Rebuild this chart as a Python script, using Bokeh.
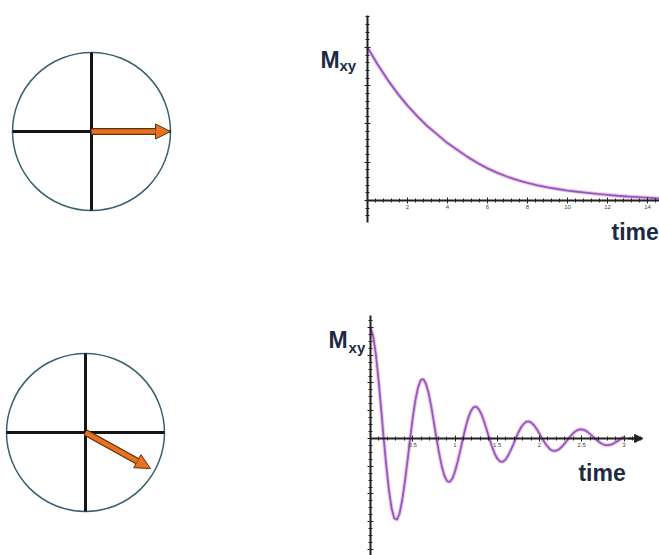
import math
from bokeh.plotting import figure
from bokeh.layouts import column, row
from bokeh.models import (ColumnDataSource, LinearAxis, SingleIntervalTicker, Range1d,
                          Arrow, NormalHead, Label, CustomJSTickFormatter)
from bokeh.embed import file_html
from bokeh.resources import INLINE

# ---------------- data ----------------
# magnetisation vector in the transverse plane (angle in degrees, length relative to radius)
vector_angles_deg = [0, -29]
vector_lengths = [1.0, 0.94]

# top chart: smooth decay of Mxy
decay_time = [0, 0.5, 1, 1.5, 2, 2.5, 3, 3.5, 4, 4.5, 5, 5.5, 6, 6.5, 7, 7.5,
              8, 8.5, 9, 9.5, 10, 10.5, 11, 11.5, 12, 12.5, 13, 13.5, 14, 14.5, 15]
decay_mxy = [1.00, 0.89, 0.79, 0.70, 0.62, 0.55, 0.485, 0.43, 0.375, 0.33, 0.285, 0.245,
             0.21, 0.18, 0.155, 0.133, 0.115, 0.099, 0.086, 0.075, 0.065, 0.057, 0.050,
             0.043, 0.037, 0.031, 0.026, 0.022, 0.018, 0.014, 0.011]
decay_tick_interval = 2

# bottom chart: oscillating (precessing) decay of Mxy
osc_time = [0.000, 0.031, 0.063, 0.094, 0.125, 0.156, 0.188, 0.219, 0.250, 0.281, 0.313, 0.344, 0.375, 0.406, 0.438, 0.469,
            0.500, 0.531, 0.563, 0.594, 0.625, 0.656, 0.688, 0.719, 0.750, 0.781, 0.813, 0.844, 0.875, 0.906, 0.938, 0.969,
            1.000, 1.031, 1.063, 1.094, 1.125, 1.156, 1.188, 1.219, 1.250, 1.281, 1.313, 1.344, 1.375, 1.406, 1.438, 1.469,
            1.500, 1.531, 1.563, 1.594, 1.625, 1.656, 1.688, 1.719, 1.750, 1.781, 1.813, 1.844, 1.875, 1.906, 1.938, 1.969,
            2.000, 2.031, 2.063, 2.094, 2.125, 2.156, 2.188, 2.219, 2.250, 2.281, 2.313, 2.344, 2.375, 2.406, 2.438, 2.469,
            2.500, 2.531, 2.563, 2.594, 2.625, 2.656, 2.688, 2.719, 2.750, 2.781, 2.813, 2.844, 2.875, 2.906, 2.938, 2.969,
            3.000]
osc_mxy = [1.000, 0.922, 0.760, 0.535, 0.273, 0.0, -0.256, -0.472, -0.630, -0.718, -0.732, -0.674, -0.556, -0.392, -0.199, 0.0,
           0.187, 0.346, 0.461, 0.525, 0.535, 0.493, 0.407, 0.287, 0.146, 0.0, -0.137, -0.253, -0.337, -0.384, -0.392, -0.361,
           -0.298, -0.210, -0.107, 0.0, 0.100, 0.185, 0.247, 0.281, 0.287, 0.264, 0.218, 0.153, 0.078, 0.0, -0.073, -0.135,
           -0.180, -0.206, -0.210, -0.193, -0.159, -0.112, -0.057, 0.0, 0.054, 0.099, 0.132, 0.151, 0.153, 0.141, 0.117, 0.082,
           0.042, 0.0, -0.039, -0.072, -0.097, -0.110, -0.112, -0.103, -0.085, -0.060, -0.031, 0.0, 0.029, 0.053, 0.071, 0.081,
           0.082, 0.076, 0.062, 0.044, 0.022, 0.0, -0.021, -0.039, -0.052, -0.059, -0.060, -0.055, -0.046, -0.032, -0.016, 0.0,
           0.015]
osc_tick_interval = 0.5

y_label_main = "M"
y_label_sub = "xy"
x_label = "time"

# ---------------- styles ----------------
TEXT_COLOR = "#1d2a45"
ORANGE = "#e8711f"
CURVE = "#8a5cc6"
HALO = "#f2a9d6"
AXIS = "#222222"
FONT = "Liberation Sans"


def base_fig(w, h, xr, yr):
    p = figure(width=w, height=h, x_range=Range1d(*xr), y_range=Range1d(*yr),
               x_axis_type=None, y_axis_type=None, toolbar_location=None,
               output_backend="svg", min_border=0, outline_line_color=None,
               background_fill_color="white", border_fill_color="white")
    return p


def vector_fig(idx, w, h, xr, yr):
    p = base_fig(w, h, xr, yr)
    p.circle(x=[0], y=[0], radius=1, fill_color=None, line_color="#3b5f6e", line_width=1.5)
    p.segment(x0=[-1, 0], y0=[0, -1], x1=[1, 0], y1=[0, 1], line_color="#141414", line_width=3)
    a = math.radians(vector_angles_deg[idx])
    L = vector_lengths[idx]
    tip_x, tip_y = L * math.cos(a), L * math.sin(a)
    p.segment(x0=[0], y0=[0], x1=[0.82 * tip_x], y1=[0.82 * tip_y],
              line_color="#5a3212", line_width=7)
    src = ColumnDataSource(dict(xs=[0], ys=[0], xe=[tip_x], ye=[tip_y]))
    p.add_layout(Arrow(source=src, x_start="xs", y_start="ys", x_end="xe", y_end="ye",
                       line_color=ORANGE, line_width=4.5,
                       end=NormalHead(size=15, fill_color=ORANGE, line_color="#5a3212", line_width=1)))
    return p


def chart_fig(w, h, xr, yr, t, m, x_interval, x_minor, x_bounds, y_interval, y_minor, y_bounds):
    p = base_fig(w, h, xr, yr)
    p.line(t, m, line_color=HALO, line_width=4, line_alpha=0.7)
    p.line(t, m, line_color=CURVE, line_width=1.8)
    xa = LinearAxis(fixed_location=0, bounds=x_bounds,
                    ticker=SingleIntervalTicker(interval=x_interval, num_minor_ticks=x_minor),
                    axis_line_width=2, axis_line_color=AXIS,
                    major_tick_in=3, major_tick_out=3, minor_tick_in=2, minor_tick_out=2,
                    major_tick_line_color=AXIS, minor_tick_line_color=AXIS,
                    major_label_text_font_size="6px", major_label_text_color="#444444",
                    major_label_standoff=2, major_label_overrides={0: ""})
    ya = LinearAxis(fixed_location=0, bounds=y_bounds,
                    ticker=SingleIntervalTicker(interval=y_interval, num_minor_ticks=y_minor),
                    axis_line_width=2, axis_line_color=AXIS,
                    major_tick_in=3, major_tick_out=3, minor_tick_in=2, minor_tick_out=2,
                    major_tick_line_color=AXIS, minor_tick_line_color=AXIS,
                    formatter=CustomJSTickFormatter(code="return ''"))
    p.add_layout(xa, "below")
    p.add_layout(ya, "left")
    return p


def add_labels(p, mx, my, sx, sy, tx, ty):
    p.add_layout(Label(x=mx, y=my, text=y_label_main, text_font=FONT, text_font_style="bold",
                       text_font_size="23px", text_color=TEXT_COLOR, text_baseline="alphabetic"))
    p.add_layout(Label(x=sx, y=sy, text=y_label_sub, text_font=FONT, text_font_style="bold",
                       text_font_size="15px", text_color=TEXT_COLOR, text_baseline="alphabetic"))
    p.add_layout(Label(x=tx, y=ty, text=x_label, text_font=FONT, text_font_style="bold",
                       text_font_size="23px", text_color=TEXT_COLOR, text_baseline="alphabetic"))


# top row (page pixels: x 0..290 | 290..659, y 0..280)
v1 = vector_fig(0, 290, 280, (-1.152, 2.519), (-1.886, 1.658))
c1 = chart_fig(369, 280, (-3.85, 14.6), (-0.523, 1.307), decay_time, decay_mxy,
               decay_tick_interval, 5, (0, 15), 0.25, 5, (-0.144, 1.21))
add_labels(c1, -2.35, 0.915, -1.4, 0.88, 12.2, -0.209)

# bottom row (y 280..555)
v2 = vector_fig(1, 290, 275, (-1.076, 2.595), (-1.557, 1.924))
c2 = chart_fig(369, 275, (-0.947, 3.420), (-1.054, 1.423), osc_time, osc_mxy,
               osc_tick_interval, 5, (0, 3.22), 0.25, 4, (-1.06, 1.108))
c2.add_layout(Arrow(x_start=3.05, y_start=0, x_end=3.22, y_end=0, line_color=AXIS, line_width=2,
                    end=NormalHead(size=8, fill_color=AXIS, line_color=AXIS)))
add_labels(c2, -0.497, 0.883, -0.26, 0.82, 2.46, -0.315)

layout = column(row(v1, c1), row(v2, c2))
open("out.html", "w").write(file_html(layout, INLINE))
